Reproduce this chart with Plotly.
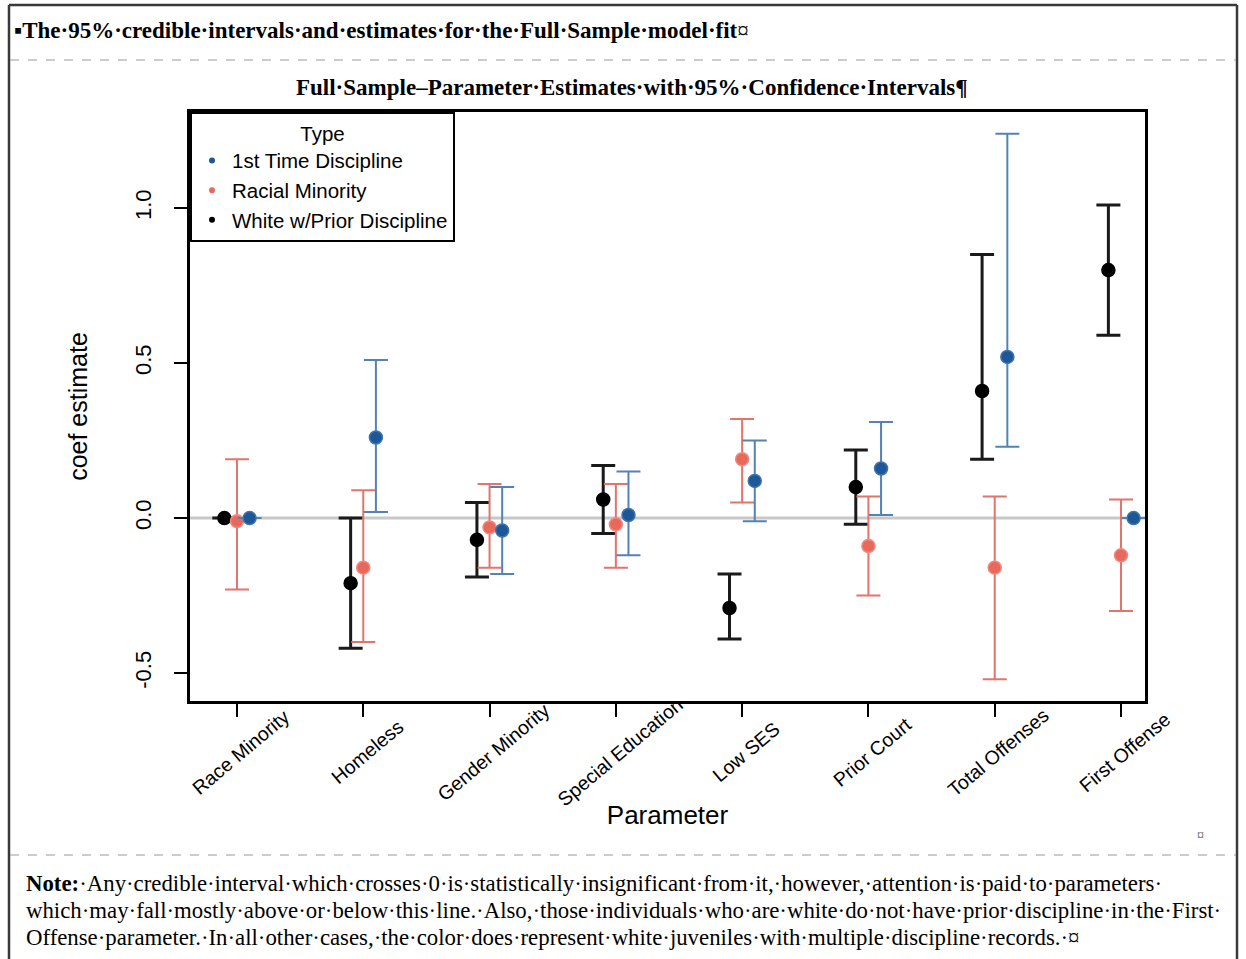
import plotly.graph_objects as go

# ---------------- data ----------------
categories = ["Race Minority", "Homeless", "Gender Minority", "Special Education",
              "Low SES", "Prior Court", "Total Offenses", "First Offense"]

white_est = [0.00, -0.21, -0.07, 0.06, -0.29, 0.10, 0.41, 0.80]
white_lo  = [0.00, -0.42, -0.19, -0.05, -0.39, -0.02, 0.19, 0.59]
white_hi  = [0.00, 0.00, 0.05, 0.17, -0.18, 0.22, 0.85, 1.01]

minority_est = [-0.01, -0.16, -0.03, -0.02, 0.19, -0.09, -0.16, -0.12]
minority_lo  = [-0.23, -0.40, -0.16, -0.16, 0.05, -0.25, -0.52, -0.30]
minority_hi  = [0.19, 0.09, 0.11, 0.11, 0.32, 0.07, 0.07, 0.06]

first_est = [0.00, 0.26, -0.04, 0.01, 0.12, 0.16, 0.52, 0.00]
first_lo  = [0.00, 0.02, -0.18, -0.12, -0.01, 0.01, 0.23, 0.00]
first_hi  = [0.00, 0.51, 0.10, 0.15, 0.25, 0.31, 1.24, 0.00]

y_ticks = [-0.5, 0.0, 0.5, 1.0]
y_tick_labels = ["-0.5", "0.0", "0.5", "1.0"]

# ---------------- figure ----------------
W, H = 1246, 959
def px(x):
    return x / W
def py(y):
    return 1 - y / H

DODGE = 0.1
idx = list(range(len(categories)))

series = [
    ("White w/Prior Discipline", white_est, white_lo, white_hi, -DODGE, "#000000", "#1a1a1a", 3, "#000000"),
    ("Racial Minority", minority_est, minority_lo, minority_hi, 0.0, "#e8685c", "#e2746c", 2, "#f08a80"),
    ("1st Time Discipline", first_est, first_lo, first_hi, DODGE, "#1d5797", "#5283b3", 2, "#3f74ad"),
]

fig = go.Figure()

for name, est, lo, hi, off, mcol, ecol, ew, lcol in series:
    fig.add_trace(go.Scatter(
        x=[i + off for i in idx], y=est, mode="markers", name=name, showlegend=False,
        marker=dict(size=13, color=mcol, line=dict(color=lcol, width=1.5)),
        error_y=dict(type="data", symmetric=False,
                     array=[h - e for h, e in zip(hi, est)],
                     arrayminus=[e - l for e, l in zip(est, lo)],
                     color=ecol, thickness=ew, width=12),
    ))

# legend-only entries (small dots like the original)
for name, col in [("1st Time Discipline", "#1d5797"), ("Racial Minority", "#e8685c"),
                  ("White w/Prior Discipline", "#000000")]:
    fig.add_trace(go.Scatter(x=[None], y=[None], mode="markers", name=name,
                             marker=dict(size=6, color=col)))

font_sans = "Liberation Sans, Arial, sans-serif"
font_serif = "Liberation Serif, Times New Roman, serif"

fig.update_layout(
    width=W, height=H,
    margin=dict(l=0, r=0, t=0, b=0),
    paper_bgcolor="white", plot_bgcolor="white",
    font=dict(family=font_sans, color="black"),
    xaxis=dict(
        domain=[px(190), px(1145)], range=[-0.372, 7.19],
        tickvals=idx, showticklabels=False,
        ticks="outside", ticklen=13, tickwidth=2, tickcolor="black",
        showline=True, linecolor="black", linewidth=2.5, mirror=True,
        showgrid=False, zeroline=False,
        title=dict(text="Parameter", font=dict(size=26, family=font_sans), standoff=91),
    ),
    yaxis=dict(
        domain=[py(701), py(112)], range=[-0.59, 1.31],
        tickvals=y_ticks, ticktext=y_tick_labels, tickangle=-90,
        tickfont=dict(size=22, family=font_sans),
        ticks="outside", ticklen=13, tickwidth=2, tickcolor="black",
        ticklabelstandoff=14,
        showline=True, linecolor="black", linewidth=2.5, mirror=True,
        showgrid=False, zeroline=False,
        title=dict(text="coef estimate", font=dict(size=25, family=font_sans), standoff=37),
    ),
    legend=dict(
        x=px(190), y=py(112), xanchor="left", yanchor="top",
        bgcolor="white", bordercolor="black", borderwidth=2,
        font=dict(size=20.5, family=font_sans),
        title=dict(text="Type", side="top center", font=dict(size=20.5, family=font_sans)),
        itemsizing="trace",
    ),
)

# zero reference line
fig.add_shape(type="line", xref="paper", yref="y", x0=px(190), x1=px(1145), y0=0, y1=0,
              line=dict(color="#c8c8c8", width=3), layer="below")

# rotated category labels (centred under ticks)
for i, c in enumerate(categories):
    fig.add_annotation(x=i + 0.03, xref="x", y=py(752), yref="paper", text=c,
                       textangle=-40, showarrow=False, xanchor="center", yanchor="middle",
                       font=dict(size=19.5, family=font_sans))

# ---------------- document frame ----------------
frame_col = "#3a3a3a"
fig.add_shape(type="line", xref="paper", yref="paper", x0=px(9), x1=px(1237), y0=py(5), y1=py(5),
              line=dict(color=frame_col, width=2.5))
fig.add_shape(type="line", xref="paper", yref="paper", x0=px(9), x1=px(9), y0=py(5), y1=py(962),
              line=dict(color=frame_col, width=2.5))
fig.add_shape(type="line", xref="paper", yref="paper", x0=px(1237), x1=px(1237), y0=py(5), y1=py(962),
              line=dict(color=frame_col, width=2.5))
for yy in (60, 855):
    fig.add_shape(type="line", xref="paper", yref="paper", x0=px(10), x1=px(1236), y0=py(yy), y1=py(yy),
                  line=dict(color="#9a9a9a", width=1.2, dash="dash"))

fig.add_annotation(x=px(12), y=py(31), xref="paper", yref="paper", xanchor="left", yanchor="middle",
                   showarrow=False,
                   text="<b>▪The·95%·credible·intervals·and·estimates·for·the·Full·Sample·model·fit</b>¤",
                   font=dict(size=23, family=font_serif, color="black"))
fig.add_annotation(x=px(632), y=py(87), xref="paper", yref="paper", xanchor="center", yanchor="middle",
                   showarrow=False,
                   text="<b>Full·Sample–Parameter·Estimates·with·95%·Confidence·Intervals¶</b>",
                   font=dict(size=23, family=font_serif, color="black"))
fig.add_annotation(x=px(1200), y=py(835), xref="paper", yref="paper", xanchor="center", yanchor="middle",
                   showarrow=False, text="¤", font=dict(size=14, family=font_serif, color="#555"))

note_lines = [
    "<b>Note:</b>·Any·credible·interval·which·crosses·0·is·statistically·insignificant·from·it,·however,·attention·is·paid·to·parameters·",
    "which·may·fall·mostly·above·or·below·this·line.·Also,·those·individuals·who·are·white·do·not·have·prior·discipline·in·the·First·",
    "Offense·parameter.·In·all·other·cases,·the·color·does·represent·white·juveniles·with·multiple·discipline·records.·¤",
]
for k, line in enumerate(note_lines):
    fig.add_annotation(x=px(24), y=py(883 + 27 * k), xref="paper", yref="paper",
                       xanchor="left", yanchor="middle", showarrow=False, text=line,
                       font=dict(size=22.8, family=font_serif, color="black"))

fig.write_html("out.html", config={"displayModeBar": False},
               post_script="document.body.style.margin='0';document.body.style.padding='0';")
